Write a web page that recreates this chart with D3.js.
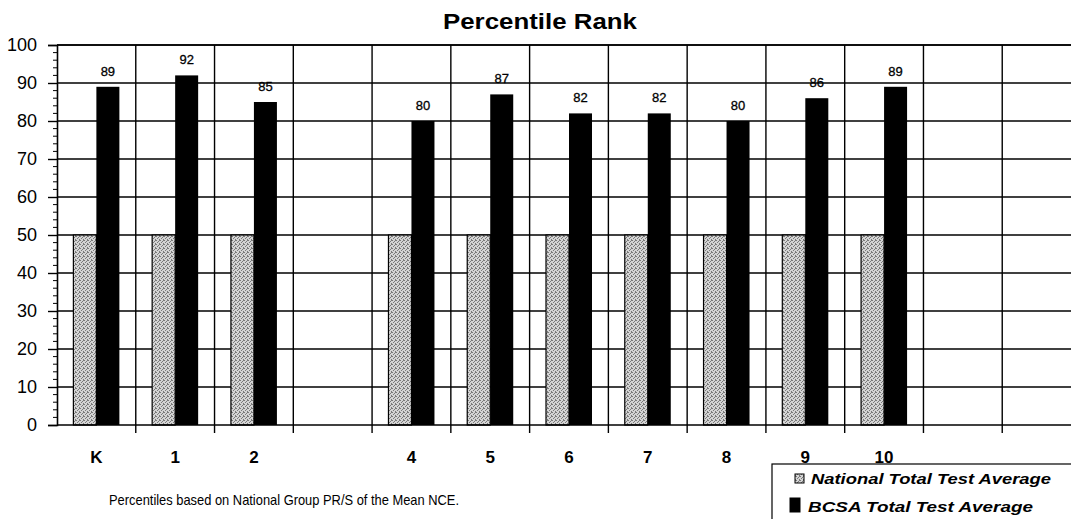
<!DOCTYPE html>
<html>
<head>
<meta charset="utf-8">
<script src="https://cdn.jsdelivr.net/npm/d3@7"></script>
<style>
  body { margin: 0; background: #fff; }
  svg { display: block; font-family: "Liberation Sans", Arial, sans-serif; }
</style>
</head>
<body>
<svg></svg>
<script>
var width = 1071;
var height = 519;

// grades, blank ones are empty slots on the chart
var grades = ["K", "1", "2", "", "4", "5", "6", "7", "8", "9", "10", "", ""];
var national = [50, 50, 50, null, 50, 50, 50, 50, 50, 50, 50, null, null];
var bcsa = [89, 92, 85, null, 80, 87, 82, 82, 80, 86, 89, null, null];
var yTicks = [0, 10, 20, 30, 40, 50, 60, 70, 80, 90, 100];
var legendNames = ["National Total Test Average", "BCSA Total Test Average"];

var svg = d3.select("svg").attr("width", width).attr("height", height);

// plot box (note: "top" is taken by window.top)
var pLeft = 57, pTop = 45, pBottom = 425, pRight = 1081;

var x = d3.scaleBand()
    .domain(d3.range(grades.length))
    .range([pLeft, pRight])
    .padding(0);

var y = d3.scaleLinear().domain([0, 100]).range([pBottom, pTop]);

// stipple fill for the national bars
var defs = svg.append("defs");
var pat = defs.append("pattern")
    .attr("id", "stip")
    .attr("width", 4).attr("height", 4)
    .attr("patternUnits", "userSpaceOnUse");
pat.append("rect").attr("width", 4).attr("height", 4).attr("fill", "#d4d4d4");
[[0, 0], [2, 1], [1, 2], [3, 3], [3, 0]].forEach(function(p) {
    pat.append("rect").attr("x", p[0]).attr("y", p[1])
        .attr("width", 1).attr("height", 1).attr("fill", "#7a7a7a");
});

// title
svg.append("text")
    .attr("x", 540).attr("y", 29)
    .attr("text-anchor", "middle")
    .attr("font-size", 22).attr("font-weight", "bold")
    .attr("textLength", 194).attr("lengthAdjust", "spacingAndGlyphs")
    .text("Percentile Rank");

// horizontal gridlines
svg.append("g").selectAll("line")
    .data(yTicks.slice(1))
    .enter().append("line")
    .attr("x1", pLeft).attr("x2", pRight)
    .attr("y1", function(d) { return y(d); })
    .attr("y2", function(d) { return y(d); })
    .attr("stroke", "#000").attr("stroke-width", 1.4);

// vertical lines at category boundaries
var bounds = d3.range(grades.length).map(function(i) { return x(i) + x.bandwidth(); });
svg.append("g").selectAll("line")
    .data(bounds)
    .enter().append("line")
    .attr("x1", function(d) { return d; })
    .attr("x2", function(d) { return d; })
    .attr("y1", pTop).attr("y2", pBottom + 8)
    .attr("stroke", "#000").attr("stroke-width", 1.4);

var bw = 23;

// national bars
svg.append("g").selectAll("rect")
    .data(national.map(function(v, i) { return {v: v, i: i}; }).filter(function(d) { return d.v != null; }))
    .enter().append("rect")
    .attr("x", function(d) { return x(d.i) + x.bandwidth() / 2 - bw; })
    .attr("y", function(d) { return y(d.v); })
    .attr("width", bw)
    .attr("height", function(d) { return y(0) - y(d.v); })
    .attr("fill", "url(#stip)")
    .attr("stroke", "#000").attr("stroke-width", 1.2);

// bcsa bars
var bData = bcsa.map(function(v, i) { return {v: v, i: i}; }).filter(function(d) { return d.v != null; });
svg.append("g").selectAll("rect")
    .data(bData)
    .enter().append("rect")
    .attr("x", function(d) { return x(d.i) + x.bandwidth() / 2; })
    .attr("y", function(d) { return y(d.v); })
    .attr("width", bw)
    .attr("height", function(d) { return y(0) - y(d.v); })
    .attr("fill", "#000");

// value labels
svg.append("g").selectAll("text")
    .data(bData)
    .enter().append("text")
    .attr("x", function(d) { return x(d.i) + x.bandwidth() / 2 + bw / 2; })
    .attr("y", function(d) { return y(d.v) - 11; })
    .attr("text-anchor", "middle")
    .attr("font-size", 13)
    .attr("stroke", "#000").attr("stroke-width", 0.3)
    .text(function(d) { return d.v; });

// y axis
var yAxis = d3.axisLeft(y).tickValues(yTicks).tickSize(9).tickPadding(11);
var ga = svg.append("g").attr("transform", "translate(" + pLeft + ",0)").call(yAxis);
ga.select(".domain").attr("stroke-width", 1.6);
ga.selectAll(".tick line").attr("stroke-width", 1.4);
ga.selectAll(".tick text")
    .attr("font-size", 18)
    .attr("font-family", "Liberation Sans, Arial, sans-serif")
    .attr("fill", "#000");

// minor ticks
svg.append("g").selectAll("line")
    .data(d3.range(0, 101, 2).filter(function(v) { return v % 10 != 0; }))
    .enter().append("line")
    .attr("x1", pLeft - 4).attr("x2", pLeft)
    .attr("y1", function(d) { return y(d); })
    .attr("y2", function(d) { return y(d); })
    .attr("stroke", "#000");

// top border and baseline
svg.append("line").attr("x1", pLeft).attr("x2", pRight).attr("y1", pTop).attr("y2", pTop)
    .attr("stroke", "#000").attr("stroke-width", 1.6);
svg.append("line").attr("x1", pLeft).attr("x2", pRight).attr("y1", pBottom).attr("y2", pBottom)
    .attr("stroke", "#000").attr("stroke-width", 1.6);

// x category labels
svg.append("g").selectAll("text")
    .data(grades)
    .enter().append("text")
    .attr("x", function(d, i) { return x(i) + x.bandwidth() / 2; })
    .attr("y", 463)
    .attr("text-anchor", "middle")
    .attr("font-size", 17).attr("font-weight", "bold")
    .text(function(d) { return d; });

// footnote
svg.append("text")
    .attr("x", 109).attr("y", 505)
    .attr("font-size", 15)
    .attr("textLength", 350).attr("lengthAdjust", "spacingAndGlyphs")
    .text("Percentiles based on National Group PR/S of the Mean NCE.");

// legend
var lg = svg.append("g");
lg.append("rect")
    .attr("x", 772).attr("y", 464)
    .attr("width", 310).attr("height", 70)
    .attr("fill", "#fff").attr("stroke", "#000").attr("stroke-width", 1.2);
var items = lg.selectAll("g.item")
    .data(legendNames)
    .enter().append("g")
    .attr("transform", function(d, i) { return "translate(0," + (i * 28) + ")"; });
items.append("rect")
    .attr("x", function(d, i) { return i == 0 ? 795 : 790; })
    .attr("y", function(d, i) { return i == 0 ? 474 : 470; })
    .attr("width", function(d, i) { return i == 0 ? 9 : 10; })
    .attr("height", function(d, i) { return i == 0 ? 9 : 14; })
    .attr("fill", function(d, i) { return i == 0 ? "url(#stip)" : "#000"; })
    .attr("stroke", "#000").attr("stroke-width", 1);
items.append("text")
    .attr("x", function(d, i) { return i == 0 ? 811 : 808; })
    .attr("y", 484)
    .attr("font-size", 15.5).attr("font-weight", "bold").attr("font-style", "italic")
    .attr("textLength", function(d, i) { return i == 0 ? 240 : 225; })
    .attr("lengthAdjust", "spacingAndGlyphs")
    .text(function(d) { return d; });
</script>
</body>
</html>
